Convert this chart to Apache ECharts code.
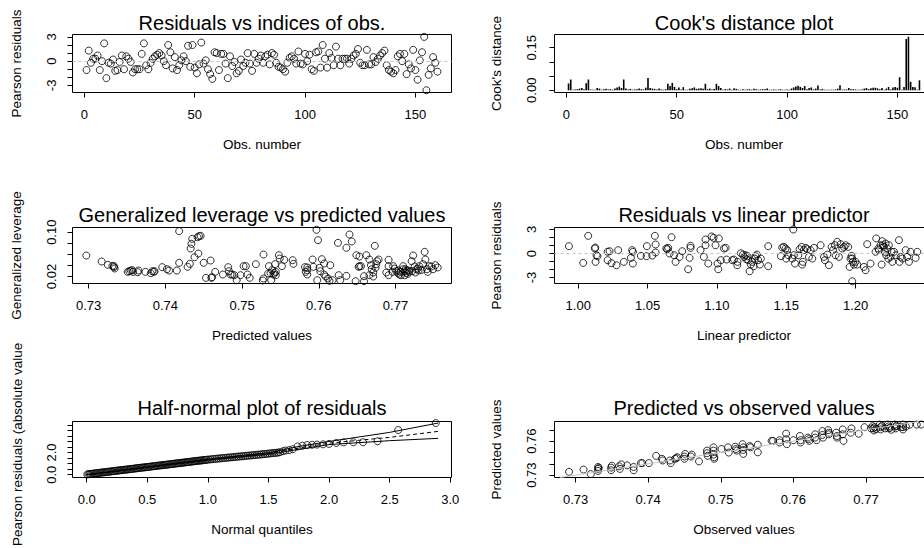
<!DOCTYPE html>
<html><head><meta charset="utf-8">
<script src="https://cdn.jsdelivr.net/npm/echarts@6/dist/echarts.min.js"></script>
<style>html,body{margin:0;padding:0;background:#fff}#c{width:924px;height:548px}</style>
</head><body><div id="c"></div>
<script>
// ---------- data ----------
const residuals = [-1.1,1.3,-0.2,0.3,0.3,0.7,-1.1,0.0,2.2,-2.1,
-0.2,-0.3,0.2,-1.2,-1.1,-0.1,0.7,-1.0,0.6,0.3,
-0.1,-1.4,-1.0,-1.0,-1.0,0.9,2.2,-0.5,-1.0,-0.2,
0.3,0.6,0.8,1.0,0.7,0.0,-0.5,2.0,1.1,-0.9,
0.5,-1.1,-0.5,0.1,0.6,0.0,1.9,-0.7,2.0,-0.8,
-1.5,-0.4,2.3,-0.3,0.1,-1.0,-1.6,-2.2,1.1,1.0,
-1.1,0.9,0.9,-0.3,-2.1,0.6,-0.6,-0.1,-1.5,-1.2,
0.2,-0.6,-0.2,1.0,-0.3,-1.2,0.9,-0.2,0.3,0.7,
-0.2,0.6,0.8,-0.4,1.0,0.8,-0.2,-0.7,-0.8,-1.0,
-1.3,-0.2,0.4,0.6,0.3,-0.3,1.2,-0.3,-0.4,0.9,
0.0,0.8,-1.0,-1.2,1.1,1.2,-0.8,2.0,0.3,-0.8,
1.0,0.4,-0.5,1.8,0.3,-0.5,0.3,0.3,0.3,-0.3,
0.3,0.7,0.9,1.5,-0.2,-0.5,-0.5,1.4,-0.4,-0.4,
0.5,-0.1,0.3,0.7,1.0,1.3,-0.5,-1.1,-1.3,-1.5,
-1.1,0.6,0.9,0.0,0.9,-1.6,-0.4,-0.9,1.4,-1.1,
-2.3,0.1,1.1,3.0,-3.6,-1.7,-0.9,0.5,-0.2,-1.3];

const cooksDistance = [0.024,0.038,0.002,0.003,0.004,0.006,0.008,0.004,0.025,0.038,
0.003,0.002,0.002,0.008,0.006,0.002,0.004,0.005,0.003,0.004,
0.002,0.006,0.010,0.013,0.008,0.038,0.006,0.003,0.005,0.002,
0.003,0.004,0.006,0.004,0.003,0.009,0.043,0.008,0.006,0.005,
0.003,0.006,0.003,0.002,0.004,0.023,0.015,0.026,0.012,0.004,
0.010,0.003,0.011,0.002,0.002,0.005,0.007,0.010,0.005,0.006,
0.007,0.005,0.023,0.004,0.006,0.003,0.005,0.023,0.015,0.008,
0.002,0.004,0.003,0.006,0.002,0.007,0.005,0.002,0.002,0.004,
0.002,0.003,0.004,0.002,0.005,0.004,0.002,0.003,0.004,0.004,
0.006,0.002,0.002,0.003,0.002,0.002,0.004,0.002,0.002,0.003,
0.002,0.006,0.010,0.013,0.016,0.012,0.008,0.015,0.004,0.008,
0.010,0.003,0.006,0.017,0.003,0.005,0.002,0.002,0.002,0.002,
0.002,0.003,0.005,0.018,0.002,0.003,0.003,0.008,0.004,0.004,
0.003,0.002,0.002,0.003,0.006,0.008,0.004,0.007,0.009,0.009,
0.007,0.004,0.008,0.002,0.006,0.012,0.003,0.010,0.012,0.009,
0.046,0.002,0.012,0.181,0.189,0.030,0.012,0.011,0.002,0.035];

const levPredicted = [0.7297,0.7317,0.7325,0.7331,0.7333,0.7333,0.7334,0.7351,0.7353,0.7355,
0.7357,0.7358,0.7364,0.7365,0.7374,0.7381,0.7383,0.7385,0.7386,0.7396,
0.7402,0.7405,0.7415,0.7418,0.7418,0.7429,0.7432,0.7433,0.7434,0.7435,
0.7438,0.7442,0.7444,0.7446,0.7443,0.7450,0.7453,0.7459,0.7460,0.7461,
0.7465,0.7475,0.7482,0.7483,0.7485,0.7487,0.7490,0.7493,0.7498,0.7502,
0.7505,0.7507,0.7510,0.7518,0.7527,0.7528,0.7528,0.7534,0.7535,0.7537,
0.7539,0.7541,0.7542,0.7544,0.7538,0.7543,0.7548,0.7549,0.7552,0.7555,
0.7566,0.7567,0.7582,0.7583,0.7585,0.7585,0.7592,0.7593,0.7597,0.7598,
0.7599,0.7601,0.7602,0.7604,0.7607,0.7609,0.7612,0.7614,0.7615,0.7618,
0.7625,0.7626,0.7628,0.7636,0.7636,0.7640,0.7643,0.7648,0.7649,0.7653,
0.7653,0.7655,0.7659,0.7662,0.7659,0.7666,0.7668,0.7669,0.7671,0.7673,
0.7675,0.7676,0.7678,0.7691,0.7691,0.7688,0.7691,0.7697,0.7699,0.7701,
0.7703,0.7705,0.7707,0.7710,0.7710,0.7712,0.7714,0.7716,0.7718,0.7721,
0.7723,0.7725,0.7727,0.7729,0.7731,0.7736,0.7738,0.7739,0.7741,0.7744,
0.7749,0.7752,0.7755,0.7704,0.7713,0.7717,0.7722,0.7726,0.7730,0.7734,
0.7742,0.7747,0.7707,0.7712,0.7715,0.7674,0.7671,0.7544,0.7585,0.7607,
0.7652,0.7666,0.7696];
const leverage = [0.0579,0.0471,0.0411,0.0393,0.0387,0.0369,0.0345,0.0284,0.0296,0.0308,
0.0314,0.0284,0.0278,0.0308,0.0284,0.0260,0.0296,0.0284,0.0296,0.0369,
0.0332,0.0308,0.0308,0.0447,0.1019,0.0375,0.0429,0.0706,0.0790,0.0880,
0.0549,0.0910,0.0928,0.0934,0.0615,0.0447,0.0176,0.0489,0.0176,0.0188,
0.0284,0.0236,0.0369,0.0296,0.0236,0.0236,0.0224,0.0134,0.0224,0.0387,
0.0387,0.0236,0.0176,0.0423,0.0128,0.0164,0.0597,0.0254,0.0387,0.0260,
0.0314,0.0236,0.0266,0.0284,0.0134,0.0423,0.0585,0.0525,0.0387,0.0501,
0.0495,0.0429,0.0369,0.0284,0.0236,0.0363,0.0507,0.0375,0.1043,0.0134,
0.0856,0.0357,0.0296,0.0513,0.0236,0.0200,0.0164,0.0122,0.0405,0.0134,
0.0808,0.0224,0.0134,0.0718,0.0212,0.0959,0.0832,0.0116,0.0585,0.0561,
0.0387,0.0387,0.0116,0.0585,0.0206,0.0507,0.0405,0.0332,0.0200,0.0754,
0.0423,0.0477,0.0507,0.0501,0.0387,0.0272,0.0224,0.0387,0.0344,0.0296,
0.0266,0.0236,0.0284,0.0332,0.0387,0.0296,0.0266,0.0248,0.0284,0.0477,
0.0579,0.0381,0.0332,0.0344,0.0387,0.0423,0.0645,0.0507,0.0332,0.0387,
0.0332,0.0405,0.0363,0.0308,0.0332,0.0308,0.0296,0.0272,0.0308,0.0320,
0.0284,0.0381,0.0224,0.0224,0.0308,0.0357,0.0272,0.0224,0.0314,0.0435,
0.0375,0.0224,0.0284];

const linPredictor = [0.9933,1.0036,1.0072,1.0120,1.0123,1.0125,1.0132,1.0139,1.0212,1.0226,
1.0212,1.0240,1.0276,1.0288,1.0329,1.0380,1.0389,1.0394,1.0394,1.0452,
1.0493,1.0495,1.0534,1.0553,1.0558,1.0558,1.0635,1.0642,1.0649,1.0659,
1.0673,1.0692,1.0702,1.0731,1.0750,1.0793,1.0803,1.0810,1.0810,1.0882,
1.0906,1.0918,1.0918,1.0938,1.0962,1.0976,1.0990,1.1005,1.1010,1.1014,
1.1051,1.1063,1.1029,1.1070,1.1111,1.1123,1.1147,1.1149,1.1173,1.1188,
1.1197,1.1207,1.1212,1.1221,1.1226,1.1236,1.1245,1.1255,1.1265,1.1274,
1.1279,1.1289,1.1298,1.1310,1.1317,1.1370,1.1370,1.1462,1.1471,1.1483,
1.1495,1.1500,1.1507,1.1515,1.1551,1.1543,1.1555,1.1563,1.1587,1.1596,
1.1611,1.1615,1.1620,1.1627,1.1640,1.1652,1.1664,1.1676,1.1688,1.1700,
1.1748,1.1772,1.1779,1.1796,1.1808,1.1827,1.1837,1.1851,1.1856,1.1868,
1.1880,1.1892,1.1904,1.1916,1.1928,1.1947,1.1957,1.1964,1.1971,1.1976,
1.1981,1.1988,1.2000,1.2012,1.1976,1.2060,1.2072,1.2084,1.2108,1.2144,
1.2149,1.2164,1.2168,1.2180,1.2188,1.2192,1.2197,1.2204,1.2212,1.2216,
1.2221,1.2228,1.2236,1.2240,1.2252,1.2260,1.2265,1.2277,1.2289,1.2313,
1.2317,1.2325,1.2337,1.2361,1.2373,1.2385,1.2397,1.2433,1.2445];
const residLP = [0.92,-1.17,2.21,0.63,0.75,-1.04,-0.21,-0.33,0.21,0.29,
-0.83,-1.21,-1.46,0.42,-1.04,-0.54,0.42,0.21,-1.25,-0.29,
-0.33,0.92,-0.25,2.21,1.13,0.13,0.63,0.54,0.71,0.00,
2.04,-0.21,-1.04,-0.42,0.29,-1.96,-0.54,0.96,0.71,0.42,
-0.42,1.04,1.75,-1.25,2.13,1.96,1.04,-1.25,-1.96,1.88,
0.63,0.71,-0.83,-0.75,-0.83,-0.75,-1.46,-1.04,0.04,-0.13,
-0.42,-0.21,-0.71,-0.33,-0.83,-2.21,-1.38,-1.04,-1.58,-0.63,
-0.33,-0.13,-0.83,-1.38,-0.63,0.92,-1.58,-0.33,0.75,0.83,
0.63,-0.63,0.42,-0.21,3.00,-0.63,-0.21,-1.25,-0.21,0.54,
0.83,-1.38,-1.04,0.42,0.71,0.54,-0.42,0.42,-0.63,0.71,
1.04,-0.42,-0.83,-0.13,-1.46,0.83,0.42,1.04,-0.21,1.46,
-0.42,1.17,0.63,0.83,1.04,0.83,-1.67,-0.63,-0.29,-0.63,
-1.04,-1.38,-1.04,-1.38,-3.46,-1.67,-2.08,1.17,-1.25,0.21,
1.88,0.63,0.42,1.04,-1.38,1.54,1.04,0.83,0.21,1.25,
-0.21,0.63,-0.63,1.04,-0.42,0.21,-1.04,0.21,-0.21,1.67,
-1.04,-0.42,-0.63,0.42,-0.42,-1.04,0.21,-0.54,0.21];

const hnQuantiles = [0.005,0.015,0.025,0.035,0.045,0.055,0.065,0.075,0.085,0.095,
0.105,0.115,0.125,0.135,0.145,0.155,0.165,0.175,0.185,0.195,
0.205,0.215,0.225,0.235,0.245,0.255,0.265,0.275,0.285,0.295,
0.305,0.315,0.325,0.335,0.345,0.355,0.365,0.375,0.385,0.395,
0.405,0.415,0.425,0.435,0.445,0.455,0.465,0.475,0.485,0.495,
0.505,0.515,0.525,0.535,0.545,0.555,0.565,0.575,0.585,0.595,
0.605,0.615,0.625,0.635,0.645,0.655,0.665,0.675,0.685,0.695,
0.705,0.715,0.725,0.735,0.745,0.755,0.765,0.775,0.785,0.795,
0.805,0.815,0.825,0.835,0.845,0.855,0.865,0.875,0.885,0.895,
0.905,0.915,0.925,0.935,0.945,0.955,0.965,0.975,0.985,0.995,
1.010,1.025,1.040,1.055,1.070,1.085,1.100,1.115,1.130,1.145,
1.160,1.175,1.190,1.205,1.220,1.235,1.250,1.265,1.280,1.295,
1.310,1.325,1.340,1.355,1.370,1.385,1.400,1.415,1.430,1.445,
1.460,1.475,1.490,1.505,1.520,1.535,1.550,1.565,1.580,1.595,
1.620,1.640,1.670,1.700,1.740,1.780,1.820,1.860,1.900,1.950,
2.000,2.060,2.120,2.200,2.280,2.400,2.570,2.880];
const hnAbsResid = [0.03,0.05,0.06,0.07,0.09,0.10,0.12,0.13,0.14,0.16,
0.17,0.18,0.20,0.21,0.22,0.24,0.25,0.26,0.28,0.29,
0.30,0.32,0.33,0.35,0.36,0.37,0.38,0.40,0.41,0.42,
0.44,0.45,0.46,0.48,0.49,0.50,0.52,0.53,0.54,0.56,
0.57,0.58,0.60,0.61,0.63,0.64,0.65,0.66,0.68,0.69,
0.70,0.72,0.73,0.74,0.76,0.77,0.78,0.80,0.81,0.82,
0.84,0.85,0.86,0.88,0.89,0.90,0.92,0.93,0.94,0.96,
0.97,0.98,1.00,1.01,1.02,1.04,1.05,1.06,1.08,1.09,
1.10,1.12,1.13,1.14,1.16,1.17,1.18,1.20,1.21,1.22,
1.24,1.25,1.26,1.28,1.29,1.30,1.32,1.33,1.34,1.36,
1.37,1.39,1.41,1.42,1.44,1.46,1.47,1.49,1.50,1.52,
1.54,1.55,1.57,1.58,1.60,1.62,1.63,1.65,1.66,1.68,
1.70,1.71,1.73,1.74,1.76,1.78,1.79,1.81,1.82,1.84,
1.86,1.87,1.89,1.91,1.93,1.95,1.96,1.98,2.00,2.03,
2.12,2.18,2.22,2.30,2.55,2.62,2.68,2.70,2.72,2.74,
2.78,2.86,2.92,2.93,2.93,3.02,4.03,4.66];
const envQ     = [0, 1.00, 1.50, 1.75, 2.00, 2.50, 2.90];
const envUpper = [0, 1.40, 1.98, 2.55, 3.00, 3.82, 4.66];
const envMid   = [0, 1.36, 1.92, 2.40, 2.85, 3.37, 3.91];
const envLower = [0, 1.32, 1.86, 2.28, 2.72, 3.07, 3.28];

const observedVals = [0.7291,0.7311,0.7321,0.7331,0.7331,0.7331,0.7332,0.7349,0.7349,0.7350,
0.7360,0.7361,0.7363,0.7371,0.7380,0.7380,0.7390,0.7392,0.7401,0.7411,
0.7419,0.7420,0.7430,0.7431,0.7437,0.7439,0.7440,0.7450,0.7451,0.7450,
0.7460,0.7459,0.7470,0.7481,0.7481,0.7482,0.7490,0.7490,0.7491,0.7491,
0.7490,0.7501,0.7510,0.7511,0.7520,0.7521,0.7522,0.7530,0.7531,0.7531,
0.7531,0.7540,0.7541,0.7551,0.7551,0.7570,0.7572,0.7581,0.7581,0.7590,
0.7590,0.7591,0.7600,0.7609,0.7610,0.7610,0.7620,0.7621,0.7622,0.7630,
0.7630,0.7632,0.7640,0.7640,0.7641,0.7648,0.7649,0.7649,0.7659,0.7660,
0.7660,0.7668,0.7668,0.7669,0.7680,0.7679,0.7690,0.7698,0.7709,0.7710,
0.7711,0.7719,0.7720,0.7720,0.7730,0.7731,0.7731,0.7740,0.7741,0.7741,
0.7751,0.7751,0.7751,0.7760,0.7770,0.7776,0.7712,0.7722,0.7733,0.7742,
0.7748,0.7726,0.7735,0.7714,0.7707,0.7755];
const predictedVals = [0.7329,0.7349,0.7309,0.7372,0.7355,0.7337,0.7363,0.7343,0.7366,0.7383,
0.7378,0.7355,0.7395,0.7386,0.7343,0.7372,0.7406,0.7406,0.7406,0.7470,
0.7444,0.7429,0.7429,0.7406,0.7444,0.7450,0.7458,0.7444,0.7487,0.7464,
0.7481,0.7464,0.7421,0.7493,0.7516,0.7470,0.7545,0.7516,0.7458,0.7444,
0.7481,0.7530,0.7545,0.7499,0.7550,0.7530,0.7516,0.7573,0.7545,0.7522,
0.7487,0.7556,0.7545,0.7568,0.7501,0.7602,0.7602,0.7608,0.7588,0.7666,
0.7617,0.7573,0.7608,0.7645,0.7608,0.7588,0.7631,0.7617,0.7602,0.7660,
0.7631,0.7608,0.7689,0.7654,0.7631,0.7697,0.7674,0.7660,0.7674,0.7645,
0.7631,0.7703,0.7660,0.7602,0.7712,0.7674,0.7665,0.7723,0.7732,0.7712,
0.7694,0.7746,0.7723,0.7703,0.7746,0.7729,0.7712,0.7746,0.7729,0.7712,
0.7746,0.7723,0.7703,0.7744,0.7746,0.7746,0.7723,0.7735,0.7717,0.7735,
0.7723,0.7712,0.7700,0.7706,0.7712,0.7729];

// tick values / labels
const idxTicks = [0, 50, 100, 150];
const residTicks = [-3, -2, -1, 0, 1, 2, 3];
const residLabels = [-3, 0, 3];
const cookTicks = [0, 0.05, 0.10, 0.15];
const cookLabels = [0, 0.15];
const predTicks = [0.73, 0.74, 0.75, 0.76, 0.77, 0.78];
const predLabels = [0.73, 0.74, 0.75, 0.76, 0.77];
const levTicks = [0.02, 0.04, 0.06, 0.08, 0.10];
const levLabels = [0.02, 0.10];
const lpTicks = [1.00, 1.05, 1.10, 1.15, 1.20, 1.25];
const lpLabels = [1.00, 1.05, 1.10, 1.15, 1.20];
const qTicks = [0, 0.5, 1.0, 1.5, 2.0, 2.5, 3.0];
const absTicks = [0, 0.5, 1.0, 1.5, 2.0, 2.5, 3.0, 3.5, 4.0, 4.5];
const absLabels = [0, 2.0];
const pred6Ticks = [0.73, 0.74, 0.75, 0.76, 0.77];
const pred6Labels = [0.73, 0.76];

// ---------- layout ----------
const FONT = '"Liberation Sans", Arial, Helvetica, sans-serif';
const panels = [
  {g:[72.5,34.5,379,58], title:'Residuals vs indices of obs.', ty:22.7,
   x:{min:-5.36,max:166.36,ticks:idxTicks,labels:idxTicks,dec:0,name:'Obs. number'},
   y:{min:-3.88,max:3.3,ticks:residTicks,labels:residLabels,dec:0,name:'Pearson residuals'}},
  {g:[554.5,34.5,379,58], title:"Cook's distance plot", ty:23,
   x:{min:-5.36,max:166.36,ticks:idxTicks,labels:idxTicks,dec:0,name:'Obs. number'},
   y:{min:-0.0078,max:0.1966,ticks:cookTicks,labels:cookLabels,dec:2,name:"Cook's distance"}},
  {g:[72.5,227.5,379,56], title:'Generalized leverage vs predicted values', ty:215,
   x:{min:0.7279,max:0.7773,ticks:predTicks,labels:predLabels,dec:2,name:'Predicted values'},
   y:{min:0.0074,max:0.1085,ticks:levTicks,labels:levLabels,dec:2,name:'Generalized leverage'}},
  {g:[554.5,227.5,379,56], title:'Residuals vs linear predictor', ty:215,
   x:{min:0.9829,max:1.2562,ticks:lpTicks,labels:lpLabels,dec:2,name:'Linear predictor'},
   y:{min:-3.74,max:3.25,ticks:residTicks,labels:residLabels,dec:0,name:'Pearson residuals'}},
  {g:[72.5,421.5,379,56], title:'Half-normal plot of residuals', ty:408.3,
   x:{min:-0.117,max:3.01,ticks:qTicks,labels:qTicks,dec:1,name:'Normal quantiles'},
   y:{min:-0.25,max:4.8,ticks:absTicks,labels:absLabels,dec:1,name:''}},
  {g:[554.5,421.5,379,56], title:'Predicted vs observed values', ty:407.5,
   x:{min:0.7271,max:0.7793,ticks:predTicks,labels:predLabels,dec:2,name:'Observed values'},
   y:{min:0.7279,max:0.7773,ticks:pred6Ticks,labels:pred6Labels,dec:2,name:'Predicted values'}}
];

const txt = {color:'#000', fontFamily:FONT};
const grids = [], xAxes = [], yAxes = [], graphics = [];
panels.forEach((p, i) => {
  const right = p.g[0] > 300;
  grids.push({left:p.g[0], top:p.g[1], width:p.g[2], height:p.g[3], show:true,
    borderColor:'#000', borderWidth:1, backgroundColor:'rgba(0,0,0,0)',
    containLabel:false, outerBoundsMode:'none'});
  xAxes.push({type:'value', gridIndex:i, min:p.x.min, max:p.x.max, position:'bottom',
    axisLine:{show:false, onZero:false}, splitLine:{show:false},
    axisTick:{show:true, inside:false, length:5, customValues:p.x.ticks, lineStyle:{color:'#000', width:1}},
    axisLabel:{customValues:p.x.labels, formatter:(v)=>Number(v).toFixed(p.x.dec), margin:15, fontSize:13, ...txt},
    name:p.x.name, nameLocation:'middle', nameGap:45, nameTextStyle:{fontSize:13.5, ...txt}});
  yAxes.push({type:'value', gridIndex:i, min:p.y.min, max:p.y.max, position:'left',
    axisLine:{show:false, onZero:false}, splitLine:{show:false},
    axisTick:{show:true, inside:false, length:5, customValues:p.y.ticks, lineStyle:{color:'#000', width:1}},
    axisLabel:{customValues:p.y.labels, rotate:90, formatter:(v)=>Number(v).toFixed(p.y.dec), margin: right ? 17 : 14.5, fontSize:13, ...txt},
    name:p.y.name, nameLocation:'middle', nameGap: right ? 51 : 49, nameTextStyle:{fontSize:13.5, ...txt}});
  graphics.push({type:'text', x:p.g[0] + p.g[2]/2, y:p.ty, silent:true,
    style:{text:p.title, fill:'#000', fontSize:20, fontFamily:FONT,
      align:'center', verticalAlign:'middle', textAlign:'center', textVerticalAlign:'middle'}});
});
// long y label of the half-normal panel
graphics.push({type:'text', x:17, y:546, rotation:Math.PI/2, silent:true,
  style:{text:'Pearson residuals (absolute value', fill:'#000', fontSize:13.5, fontFamily:FONT,
    align:'left', verticalAlign:'middle', textAlign:'left', textVerticalAlign:'middle'}});

const circle = {type:'scatter', symbol:'circle', symbolSize:7, silent:true,
  itemStyle:{color:'rgba(0,0,0,0)', borderColor:'#000', borderWidth:1}};
const zeroLine = {silent:true, symbol:['none','none'], label:{show:false},
  lineStyle:{color:'#c4c4c4', type:[3,3], width:1.2}, data:[{yAxis:0}]};

const series = [
  {...circle, xAxisIndex:0, yAxisIndex:0, data:residuals.map((r,i)=>[i+1,r]), markLine:zeroLine},
  {type:'bar', xAxisIndex:1, yAxisIndex:1, barWidth:1.6, silent:true, itemStyle:{color:'#000'},
   data:cooksDistance.map((c,i)=>[i+1,c])},
  {...circle, xAxisIndex:2, yAxisIndex:2, data:levPredicted.map((x,i)=>[x,leverage[i]])},
  {...circle, xAxisIndex:3, yAxisIndex:3, data:linPredictor.map((x,i)=>[x,residLP[i]]), markLine:zeroLine},
  {type:'line', xAxisIndex:4, yAxisIndex:4, symbol:'none', silent:true, lineStyle:{color:'#000', width:1},
   data:envQ.map((q,i)=>[q,envUpper[i]])},
  {type:'line', xAxisIndex:4, yAxisIndex:4, symbol:'none', silent:true, lineStyle:{color:'#000', width:1, type:[4,3]},
   data:envQ.map((q,i)=>[q,envMid[i]])},
  {type:'line', xAxisIndex:4, yAxisIndex:4, symbol:'none', silent:true, lineStyle:{color:'#000', width:1},
   data:envQ.map((q,i)=>[q,envLower[i]])},
  {...circle, xAxisIndex:4, yAxisIndex:4, data:hnQuantiles.map((q,i)=>[q,hnAbsResid[i]])},
  {...circle, xAxisIndex:5, yAxisIndex:5, data:observedVals.map((x,i)=>[x,predictedVals[i]]),
   markLine:{silent:true, symbol:['none','none'], label:{show:false}, lineStyle:{color:'#c8c8c8', type:'solid', width:1},
     data:[[{coord:[panels[5].y.min, panels[5].y.min]}, {coord:[panels[5].y.max, panels[5].y.max]}]]}}
];

const chart = echarts.init(document.getElementById('c'), null, {renderer:'svg'});
chart.setOption({animation:false, backgroundColor:'#fff', grid:grids, xAxis:xAxes, yAxis:yAxes,
  series:series, graphic:{elements:graphics}});
</script>
</body></html>
